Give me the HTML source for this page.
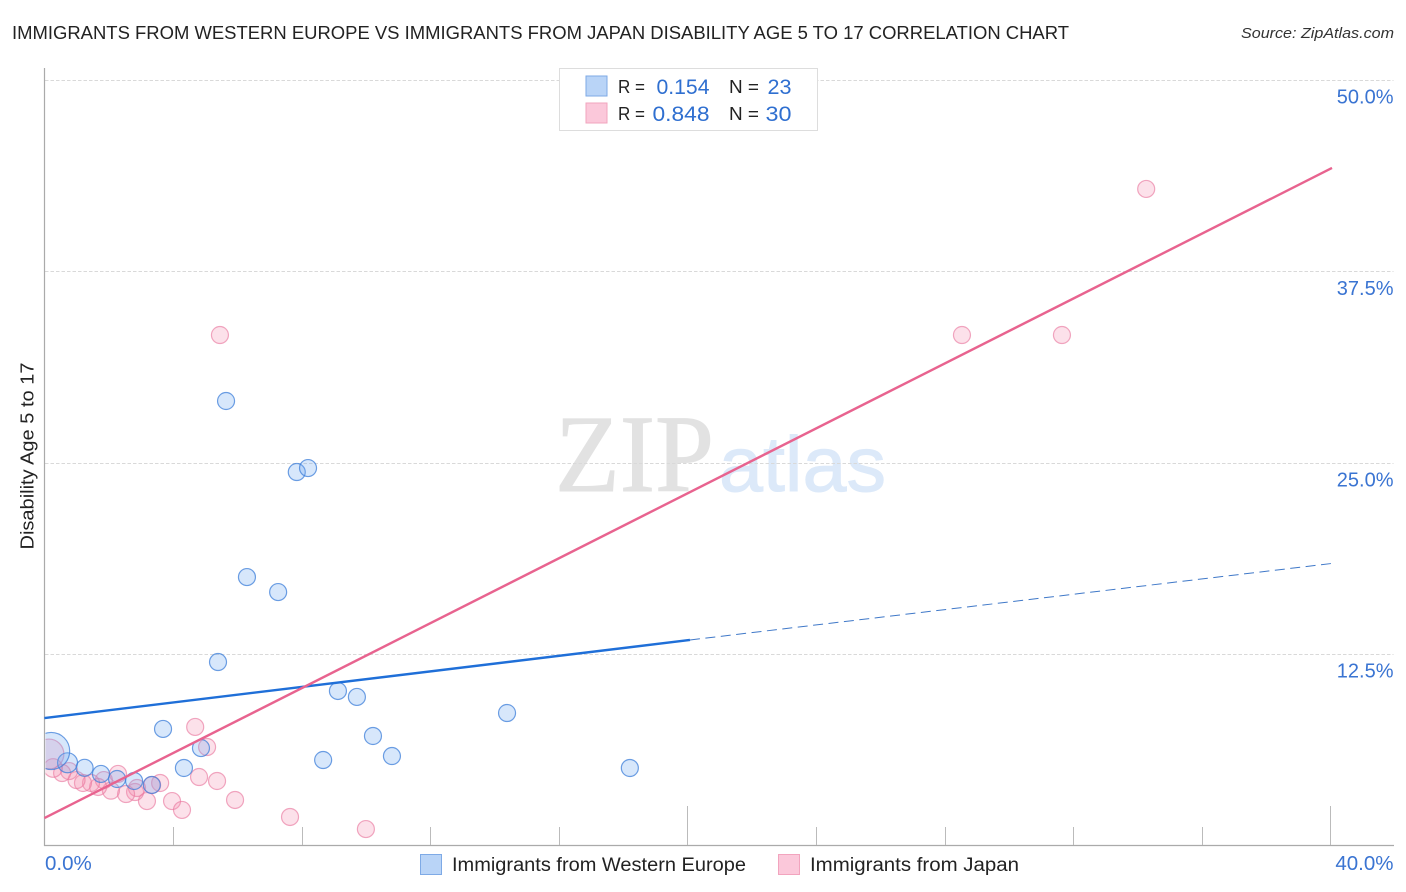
<!DOCTYPE html>
<html lang="en">
<head>
<meta charset="utf-8">
<title>Immigrants from Western Europe vs Immigrants from Japan Disability Age 5 to 17 Correlation Chart</title>
<style>
html,body{margin:0;padding:0;background:#fff;width:1406px;height:892px;overflow:hidden}
svg{display:block}
text{font-family:"Liberation Sans",sans-serif}
</style>
</head>
<body>
<svg id="chart" width="1406" height="892" viewBox="0 0 1406 892" xmlns="http://www.w3.org/2000/svg">
  <text x="12" y="39" font-size="18.5" fill="#222" textLength="1057" lengthAdjust="spacingAndGlyphs">IMMIGRANTS FROM WESTERN EUROPE VS IMMIGRANTS FROM JAPAN DISABILITY AGE 5 TO 17 CORRELATION CHART</text>
  <text x="1241" y="38" font-size="15" font-style="italic" fill="#333" textLength="153" lengthAdjust="spacingAndGlyphs">Source: ZipAtlas.com</text>

  <g>
    <text x="555" y="491" font-size="110" fill="#e2e2e2" stroke="#e2e2e2" stroke-width="1" style="font-family:'Liberation Serif',serif" textLength="159" lengthAdjust="spacingAndGlyphs">ZIP</text>
    <text x="719" y="491" font-size="78" fill="#dce9f9" stroke="#dce9f9" stroke-width="1" textLength="167" lengthAdjust="spacingAndGlyphs">atlas</text>
  </g>

  <g id="grid"></g>
  <g id="pink-points"></g>
  <g id="blue-points"></g>
  <rect x="14" y="720" width="31.5" height="70" fill="#fff"/>
  <g id="axes"></g>
  <g id="trends"></g>
  <g id="y-labels"></g>
  <g id="x-labels"></g>

  <text transform="translate(33.5,456) rotate(-90)" text-anchor="middle" font-size="18" fill="#222" textLength="187" lengthAdjust="spacingAndGlyphs">Disability Age 5 to 17</text>

  <g>
    <rect x="559.5" y="68.5" width="258" height="62" fill="#fff" stroke="#dddddd" stroke-width="1"/>
    <rect x="586" y="76" width="21" height="20" fill="#b9d4f7" stroke="#7eaae6" stroke-width="1"/>
    <rect x="586" y="103" width="21" height="20" fill="#fbc8da" stroke="#f2a4be" stroke-width="1"/>
    <text x="618" y="93" font-size="18" fill="#222" textLength="27" lengthAdjust="spacingAndGlyphs">R =</text>
    <text x="709.5" y="94" font-size="21" fill="#2f6fd0" text-anchor="end" textLength="53" lengthAdjust="spacingAndGlyphs">0.154</text>
    <text x="729" y="93" font-size="18" fill="#222" textLength="30" lengthAdjust="spacingAndGlyphs">N =</text>
    <text x="791.5" y="94" font-size="21" fill="#2f6fd0" text-anchor="end" textLength="24" lengthAdjust="spacingAndGlyphs">23</text>
    <text x="618" y="120" font-size="18" fill="#222" textLength="27" lengthAdjust="spacingAndGlyphs">R =</text>
    <text x="709.5" y="121" font-size="21" fill="#2f6fd0" text-anchor="end" textLength="57" lengthAdjust="spacingAndGlyphs">0.848</text>
    <text x="729" y="120" font-size="18" fill="#222" textLength="30" lengthAdjust="spacingAndGlyphs">N =</text>
    <text x="791.5" y="121" font-size="21" fill="#2f6fd0" text-anchor="end" textLength="26" lengthAdjust="spacingAndGlyphs">30</text>
  </g>

  <g>
    <rect x="420.5" y="854.5" width="21" height="20" fill="#b9d4f7" stroke="#7eaae6" stroke-width="1"/>
    <text x="452" y="871" font-size="19" fill="#222" textLength="294" lengthAdjust="spacingAndGlyphs">Immigrants from Western Europe</text>
    <rect x="778.5" y="854.5" width="21" height="20" fill="#fbc8da" stroke="#f2a4be" stroke-width="1"/>
    <text x="810" y="871" font-size="19" fill="#222" textLength="209" lengthAdjust="spacingAndGlyphs">Immigrants from Japan</text>
  </g>
</svg>
<script>
// Western Europe series (x %, y %, bubble weight)
const blueX = [5.65,7.85,8.20,6.30,7.27,5.40,9.13,9.72,14.39,3.69,10.22,4.87,10.81,8.67,4.34,18.21,0.72,1.25,1.76,2.26,2.79,3.34,0.21];
const blueY = [29.04,24.40,24.66,17.54,16.56,11.99,10.10,9.71,8.66,7.62,7.16,6.37,5.85,5.59,5.07,5.07,5.41,5.08,4.68,4.35,4.22,3.96,6.18];
const blueWeight = [1,1,1,1,1,1,1,1,1,1,1,1,1,1,1,1,1.38,1,1,1,1,1,4.75];
// Japan series (x %, y %, bubble weight)
const pinkX = [34.27,28.54,31.65,5.46,4.69,5.06,4.81,5.37,5.93,7.64,10.0,3.97,4.28,3.19,3.60,3.35,2.82,2.88,2.54,2.29,2.07,1.85,1.67,1.45,1.20,1.0,0.77,0.55,0.27,0.14];
const pinkY = [42.89,33.35,33.35,33.35,7.75,6.44,4.48,4.22,2.98,1.87,1.08,2.91,2.33,2.91,4.09,3.96,3.50,3.76,3.37,4.68,3.59,4.28,3.83,4.09,4.09,4.28,4.87,4.74,5.07,5.98];
const pinkWeight = [1,1,1,1,1,1,1,1,1,1,1,1,1,1,1,1,1,1,1,1,1,1,1,1,1,1,1,1,1.2,3.1];
// Trend endpoints
const blueTrendX = [0, 20.08];
const blueTrendY = [8.33, 13.43];
const blueDashX = [20.08, 40.05];
const blueDashY = [13.43, 18.43];
const pinkTrendX = [0, 40.05];
const pinkTrendY = [1.80, 44.26];
// Axis ticks
const yTicks = [12.5, 25, 37.5, 50];
const yTickLabels = ["12.5%", "25.0%", "37.5%", "50.0%"];
const xTicks = [4, 8, 12, 16, 20, 24, 28, 32, 36, 40];
const xMajorTicks = [20, 40];
const xEndLabels = ["0.0%", "40.0%"];

const NS = "http://www.w3.org/2000/svg";
function xScale(v) { return 44.4 + v * 32.15; }
function yScale(v) { return 845.6 - v * 15.31; }
function rScale(w) { return 8.5 * Math.sqrt(w); }
function make(tag, attrs, parent) {
  const el = document.createElementNS(NS, tag);
  for (const k in attrs) el.setAttribute(k, attrs[k]);
  parent.appendChild(el);
  return el;
}

const grid = document.getElementById("grid");
yTicks.forEach(function (t) {
  const y = Math.round(yScale(t)) + 0.5;
  const el = make("line", { x1: 45, x2: 1393.5, y1: y, y2: y, stroke: "#d9d9d9", "stroke-width": 1, "stroke-dasharray": "3.5 2" }, grid);
  
  
});

const axes = document.getElementById("axes");
const yAxisLine = make("line", { x1: 44.5, x2: 44.5, y1: 68, y2: 846, stroke: "#aaaaaa", "stroke-width": 1.2 }, axes);


const xAxisLine = make("line", { x1: 44, x2: 1394, y1: 845.5, y2: 845.5, stroke: "#aaaaaa", "stroke-width": 1.2 }, axes);


xTicks.forEach(function (t) {
  const x = Math.round(xScale(t)) + 0.5;
  const top = xMajorTicks.indexOf(t) >= 0 ? 806 : 827;
  const el = make("line", { x1: x, x2: x, y1: top, y2: 845, stroke: "#bbbbbb", "stroke-width": 1 }, axes);
  
  
});

const pinkG = document.getElementById("pink-points");
pinkX.forEach(function (v, i) {
  const el = make("circle", { cx: xScale(v), cy: yScale(pinkY[i]), r: rScale(pinkWeight[i]), fill: "#f58fb0", "fill-opacity": 0.27, stroke: "#e9799f", "stroke-opacity": 0.65, "stroke-width": 1.2 }, pinkG);
  
  
});

const blueG = document.getElementById("blue-points");
blueX.forEach(function (v, i) {
  const el = make("circle", { cx: xScale(v), cy: yScale(blueY[i]), r: rScale(blueWeight[i]), fill: "#6ea8ef", "fill-opacity": 0.28, stroke: "#3d7fd9", "stroke-opacity": 0.75, "stroke-width": 1.2 }, blueG);
  
  
});

const trends = document.getElementById("trends");
const blueSolid = make("line", { x1: xScale(blueTrendX[0]), y1: yScale(blueTrendY[0]), x2: xScale(blueTrendX[1]), y2: yScale(blueTrendY[1]), stroke: "#1f6fd8", "stroke-width": 2.4 }, trends);


const blueDash = make("line", { x1: xScale(blueDashX[0]), y1: yScale(blueDashY[0]), x2: xScale(blueDashX[1]), y2: yScale(blueDashY[1]), stroke: "#3f78c8", "stroke-width": 1, "stroke-dasharray": "10 5.5" }, trends);


const pinkLine = make("line", { x1: xScale(pinkTrendX[0]), y1: yScale(pinkTrendY[0]), x2: xScale(pinkTrendX[1]), y2: yScale(pinkTrendY[1]), stroke: "#e8638f", "stroke-width": 2.4 }, trends);



const yLabels = document.getElementById("y-labels");
yTicks.forEach(function (t, i) {
  const el = make("text", { x: 1393.5, y: yScale(t) + 23.5, "text-anchor": "end", "font-size": 20, fill: "#3a74d2" }, yLabels);
  el.textContent = yTickLabels[i];
  
  
});

const xLabels = document.getElementById("x-labels");
const xStart = make("text", { x: 45, y: 870, "font-size": 20.5, fill: "#3a74d2" }, xLabels);
xStart.textContent = xEndLabels[0];


const xEnd = make("text", { x: 1393.5, y: 870, "text-anchor": "end", "font-size": 20.5, fill: "#3a74d2" }, xLabels);
xEnd.textContent = xEndLabels[1];


</script>
</body>
</html>
